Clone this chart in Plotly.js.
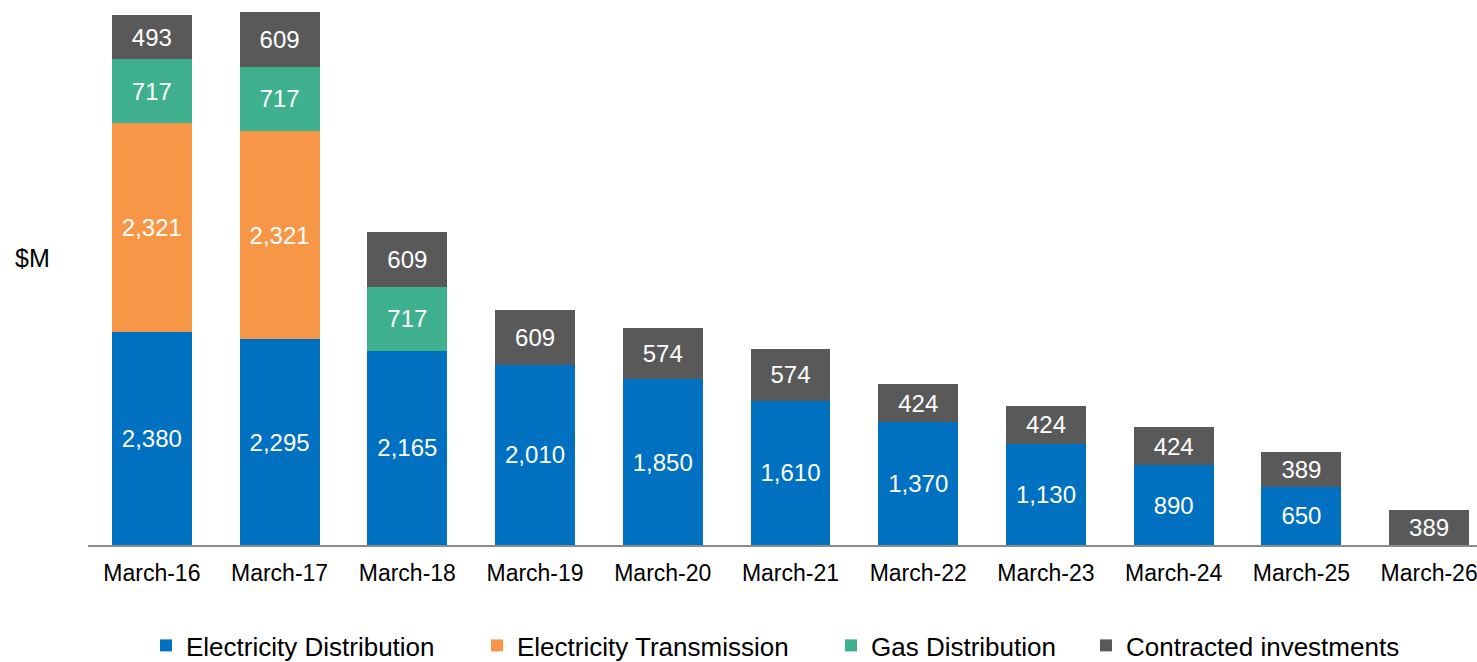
<!DOCTYPE html>
<html>
<head>
<meta charset="utf-8">
<script src="https://cdn.plot.ly/plotly-3.0.1.min.js"></script>
<style>
html,body{margin:0;padding:0;overflow:hidden;background:#fff;}
#chart{width:1500px;height:662px;}
</style>
</head>
<body>
<div id="chart"></div>
<script>
const categories = ["March-16","March-17","March-18","March-19","March-20","March-21","March-22","March-23","March-24","March-25","March-26"];
const electricityDistribution = [2380, 2295, 2165, 2010, 1850, 1610, 1370, 1130, 890, 650, null];
const electricityTransmission = [2321, 2321, null, null, null, null, null, null, null, null, null];
const gasDistribution = [717, 717, 717, null, null, null, null, null, null, null, null];
const contractedInvestments = [493, 609, 609, 609, 574, 574, 424, 424, 424, 389, 389];

const W = 1500, H = 662, ML = 88, MR = 7, MT = 10, MB = 117;
const plotW = W - ML - MR, plotH = H - MT - MB;
const px2x = p => (p - ML) / plotW;
const py2y = p => (H - MB - p) / plotH;

function mk(name, vals, color, legend) {
  return {
    type: 'bar', name: name, x: categories, y: vals,
    marker: {color: color, line: {width: 0}},
    text: vals.map(v => v == null ? '' : v.toLocaleString('en-US')),
    textposition: 'inside', insidetextanchor: 'middle', textangle: 0,
    constraintext: 'none',
    insidetextfont: {family: 'Liberation Sans, Arial, sans-serif', size: 24, color: '#ffffff'},
    hoverinfo: 'skip', legend: legend
  };
}

const data = [
  mk('Electricity Distribution', electricityDistribution, '#0070C0', 'legend'),
  mk('Electricity Transmission', electricityTransmission, '#F79646', 'legend2'),
  mk('Gas Distribution', gasDistribution, '#3EB08D', 'legend3'),
  mk('Contracted investments', contractedInvestments, '#595959', 'legend4')
];

const legFont = {family: 'Liberation Sans, Arial, sans-serif', size: 26, color: '#000'};
function leg(px) {
  return {orientation: 'h', x: px2x(px), xanchor: 'left', y: py2y(622), yanchor: 'top',
          font: legFont, bgcolor: 'rgba(0,0,0,0)', borderwidth: 0, itemclick: false};
}

const layout = {
  width: W, height: H,
  margin: {l: ML, r: MR, t: MT, b: MB, autoexpand: false},
  paper_bgcolor: '#fff', plot_bgcolor: '#fff',
  barmode: 'stack', bargap: 0.374,
  showlegend: true,
  legend: leg(146),
  legend2: leg(477),
  legend3: leg(831),
  legend4: leg(1086),
  xaxis: {
    type: 'category', range: [-0.5, 10.5],
    showline: true, linecolor: '#8c8c8c', linewidth: 2,
    ticks: '', showgrid: false, zeroline: false,
    tickfont: {family: 'Liberation Sans, Arial, sans-serif', size: 23, color: '#000'},
    ticklabelstandoff: 6
  },
  yaxis: {
    range: [0, plotH / (530 / 5911)],
    showticklabels: false, showgrid: false, zeroline: false, showline: false, ticks: ''
  },
  annotations: [{
    text: '$M', xref: 'paper', yref: 'paper', x: px2x(13), y: py2y(258),
    xanchor: 'left', yanchor: 'middle', showarrow: false,
    font: {family: 'Liberation Sans, Arial, sans-serif', size: 25, color: '#000'}
  }]
};

Plotly.newPlot('chart', data, layout, {displayModeBar: false, staticPlot: true});
</script>
</body>
</html>
